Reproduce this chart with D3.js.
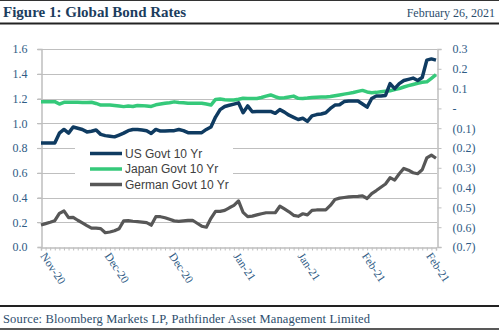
<!DOCTYPE html>
<html>
<head>
<meta charset="utf-8">
<script src="https://cdn.jsdelivr.net/npm/d3@7"></script>
<style>
  html, body { margin: 0; padding: 0; background: #fff; }
  svg { display: block; }
</style>
</head>
<body>
<script>
// values, one per trading day
var usYield = [
  0.84, 0.84, 0.84, 0.84, 0.92, 0.95, 0.92, 0.97, 0.96, 0.95,
  0.93, 0.935, 0.945, 0.91, 0.90, 0.895, 0.89, 0.905, 0.92, 0.94,
  0.95, 0.95, 0.945, 0.94, 0.918, 0.95, 0.937, 0.937, 0.94, 0.94,
  0.95, 0.94, 0.924, 0.924, 0.924, 0.924, 0.95, 0.97, 1.05, 1.11,
  1.135, 1.145, 1.155, 1.165, 1.085, 1.14, 1.093, 1.095, 1.095, 1.095,
  1.095, 1.08, 1.11, 1.09, 1.065, 1.048, 1.03, 1.04, 1.015, 1.06,
  1.07, 1.075, 1.085, 1.12, 1.147, 1.15, 1.175, 1.18, 1.18, 1.18,
  1.155, 1.13, 1.20, 1.22, 1.22, 1.225, 1.32, 1.28, 1.32, 1.345,
  1.355, 1.365, 1.345, 1.37, 1.51, 1.52, 1.51
];

var japanYield = [
  0.034, 0.034, 0.034, 0.034, 0.022, 0.031, 0.031, 0.031, 0.031, 0.030,
  0.030, 0.031, 0.025, 0.017, 0.017, 0.017, 0.015, 0.012, 0.009, 0.012,
  0.010, 0.015, 0.014, 0.012, 0.010, 0.018, 0.022, 0.026, 0.029, 0.033,
  0.030, 0.028, 0.026, 0.026, 0.026, 0.026, 0.022, 0.017, 0.045, 0.047,
  0.044, 0.042, 0.042, 0.046, 0.051, 0.050, 0.050, 0.050, 0.055, 0.062,
  0.068, 0.059, 0.052, 0.054, 0.058, 0.062, 0.051, 0.050, 0.052, 0.055,
  0.056, 0.057, 0.058, 0.060, 0.064, 0.068, 0.072, 0.076, 0.080, 0.086,
  0.091, 0.083, 0.079, 0.081, 0.084, 0.087, 0.089, 0.095, 0.100, 0.108,
  0.115, 0.121, 0.127, 0.132, 0.134, 0.152, 0.170
];

var germanYield = [
  -0.589, -0.582, -0.575, -0.567, -0.530, -0.518, -0.552, -0.550, -0.565, -0.578,
  -0.592, -0.605, -0.605, -0.607, -0.628, -0.624, -0.618, -0.608, -0.568, -0.567,
  -0.570, -0.572, -0.574, -0.577, -0.590, -0.547, -0.547, -0.552, -0.560, -0.568,
  -0.571, -0.568, -0.566, -0.565, -0.580, -0.595, -0.600, -0.555, -0.520, -0.520,
  -0.515, -0.502, -0.490, -0.467, -0.525, -0.547, -0.544, -0.538, -0.532, -0.527,
  -0.527, -0.527, -0.494, -0.508, -0.522, -0.540, -0.545, -0.532, -0.538, -0.515,
  -0.513, -0.513, -0.513, -0.490, -0.460, -0.453, -0.450, -0.447, -0.445, -0.444,
  -0.442, -0.455, -0.430, -0.415, -0.398, -0.382, -0.350, -0.362, -0.330, -0.303,
  -0.312, -0.325, -0.330, -0.310, -0.250, -0.236, -0.252
];

// category labels shown every 14th day
var xTickIndex = [0, 14, 28, 42, 56, 70, 84];
var xTickLabels = ["Nov-20", "Dec-20", "Dec-20", "Jan-21", "Jan-21", "Feb-21", "Feb-21"];

var leftTicks = [0, 0.2, 0.4, 0.6, 0.8, 1.0, 1.2, 1.4, 1.6];
var rightTicks = [0.3, 0.2, 0.1, 0, -0.1, -0.2, -0.3, -0.4, -0.5, -0.6, -0.7];

var seriesNames = ["US Govt 10 Yr", "Japan Govt 10 Yr", "German Govt 10 Yr"];

var translate = function(x, y) {
  return "translate(" + x + ", " + y + ") ";
};

var W = 499, H = 331;
var serif = "'Liberation Serif', 'DejaVu Serif', serif";
var axisBlue = "#2f5b85";
var gridGray = "#bfbfbf";

var svg = d3.select("body").append("svg")
  .attr("width", W)
  .attr("height", H);

svg.append("rect").attr("width", W).attr("height", H).style("fill", "#fff");

/*
 * header + footer
 */
svg.append("line").attr("x1", 0).attr("x2", W).attr("y1", 0.5).attr("y2", 0.5)
  .style("stroke", "#333").style("stroke-width", 1);
svg.append("text")
  .attr("x", 3).attr("y", 17)
  .text("Figure 1: Global Bond Rates")
  .style("font-family", serif).style("font-weight", "bold")
  .style("font-size", "15px").style("fill", "#1c3d5e");
svg.append("text")
  .attr("x", 495).attr("y", 17)
  .attr("text-anchor", "end")
  .text("February 26, 2021")
  .style("font-family", serif).style("font-size", "12px").style("fill", "#2c4d6c");
svg.append("line").attr("x1", 0).attr("x2", W).attr("y1", 23.5).attr("y2", 23.5)
  .style("stroke", "#222").style("stroke-width", 2);

svg.append("line").attr("x1", 0).attr("x2", W).attr("y1", 306).attr("y2", 306)
  .style("stroke", "#222").style("stroke-width", 2);
svg.append("text")
  .attr("x", 3).attr("y", 323)
  .text("Source: Bloomberg Markets LP, Pathfinder Asset Management Limited")
  .attr("textLength", 367)
  .style("font-family", serif).style("font-size", "12.5px").style("fill", "#2c4d6c");
svg.append("line").attr("x1", 0).attr("x2", W).attr("y1", 329).attr("y2", 329)
  .style("stroke", "#222").style("stroke-width", 1.5);

/*
 * scales
 */
var plot = { left: 41, right: 436, top: 49, bottom: 247 };

var x = d3.scaleLinear().domain([0, usYield.length - 1]).range([plot.left, plot.right]);
var yLeft = d3.scaleLinear().domain([0, 1.6]).range([plot.bottom, plot.top]);
var yRight = d3.scaleLinear().domain([-0.7, 0.3]).range([plot.bottom, plot.top]);

// gridlines
svg.append("g")
  .selectAll("line")
  .data(leftTicks.filter(function(d) { return d > 0; }))
  .enter().append("line")
  .attr("x1", plot.left - 4).attr("x2", plot.right + 1)
  .attr("y1", function(d) { return Math.round(yLeft(d)) + 0.5; })
  .attr("y2", function(d) { return Math.round(yLeft(d)) + 0.5; })
  .style("stroke", gridGray).style("stroke-width", 1.2);

// left axis
var leftAxis = svg.append("g")
  .attr("transform", translate(plot.left + 0.5, 0))
  .call(d3.axisLeft(yLeft).tickValues(leftTicks).tickSize(4).tickPadding(10)
    .tickFormat(d3.format(".1f")));

// right axis
var fmtRight = function(d) {
  var v = Math.round(d * 10) / 10;
  if (v === 0) return "-";
  if (v < 0) return "(" + Math.abs(v).toFixed(1) + ")";
  return v.toFixed(1);
};
var rightAxis = svg.append("g")
  .attr("transform", translate(plot.right + 1.5, 0))
  .call(d3.axisRight(yRight).tickValues(rightTicks).tickSize(4).tickPadding(11)
    .tickFormat(fmtRight));

// bottom axis: minor tick per day, labels every 14
var bottomAxis = svg.append("g")
  .attr("transform", translate(0, plot.bottom + 0.5))
  .call(d3.axisBottom(x).tickValues(d3.range(usYield.length)).tickSize(3).tickFormat(""));

svg.append("g")
  .selectAll("text")
  .data(xTickIndex)
  .enter().append("text")
  .attr("transform", function(d) { return translate(x(d) - 1, plot.bottom + 9) + "rotate(56)"; })
  .text(function(d, i) { return xTickLabels[i]; })
  .style("font-family", serif).style("font-size", "11.5px").style("fill", axisBlue);

[leftAxis, rightAxis, bottomAxis].forEach(function(g) {
  g.select(".domain").style("stroke", gridGray).style("stroke-width", 1.5);
  g.selectAll(".tick line").style("stroke", gridGray);
  g.selectAll(".tick text")
    .style("font-family", serif).style("font-size", "12px")
    .style("font-variant-numeric", "oldstyle-nums").style("fill", axisBlue);
});
leftAxis.selectAll(".tick line").style("stroke", gridGray).style("stroke-width", 1.2);

/*
 * series
 */
var seriesColors = ["#0f3b61", "#35c97a", "#575757"];
var seriesWidths = [3.5, 3.5, 3.2];

var lineLeft = d3.line().x(function(d, i) { return x(i); }).y(function(d) { return yLeft(d); });
var lineRight = d3.line().x(function(d, i) { return x(i); }).y(function(d) { return yRight(d); });

// legend box sits above gridlines but below data lines
var legend = svg.append("g").attr("transform", translate(75, 140));
legend.append("rect").attr("width", 158).attr("height", 53).style("fill", "#fff");

svg.append("path").datum(germanYield).attr("d", lineRight)
  .style("fill", "none").style("stroke", seriesColors[2])
  .style("stroke-width", seriesWidths[2]).style("stroke-linejoin", "round");
svg.append("path").datum(japanYield).attr("d", lineRight)
  .style("fill", "none").style("stroke", seriesColors[1])
  .style("stroke-width", seriesWidths[1]).style("stroke-linejoin", "round");
svg.append("path").datum(usYield).attr("d", lineLeft)
  .style("fill", "none").style("stroke", seriesColors[0])
  .style("stroke-width", seriesWidths[0]).style("stroke-linejoin", "round");

var entry = legend.selectAll(".entry")
  .data(seriesNames)
  .enter().append("g")
  .attr("class", "entry")
  .attr("transform", function(d, i) { return translate(0, 13.5 + i * 15.5); });

entry.append("line")
  .attr("x1", 15).attr("x2", 47)
  .style("stroke", function(d, i) { return seriesColors[i]; })
  .style("stroke-width", 3.5);

entry.append("text")
  .attr("x", 50).attr("y", 4)
  .text(function(d) { return d; })
  .style("font-family", "'Liberation Sans', Arial, sans-serif")
  .style("font-size", "12px").style("fill", "#404040");
</script>
</body>
</html>
